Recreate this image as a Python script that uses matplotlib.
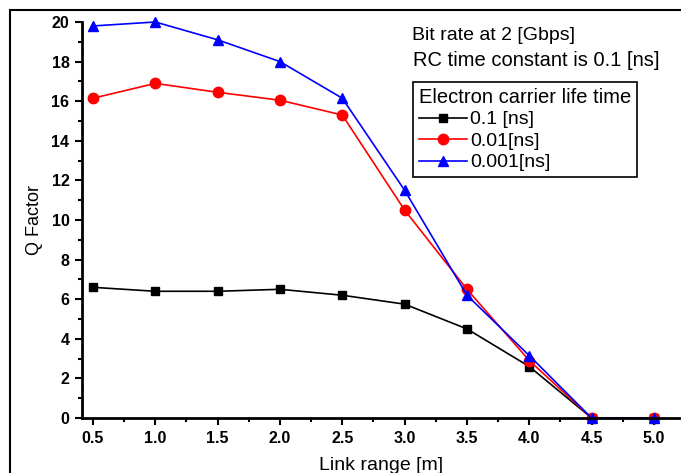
import matplotlib
matplotlib.use("Agg")
import matplotlib.pyplot as plt
from matplotlib.patches import Rectangle
from matplotlib.ticker import MultipleLocator

link_range = [0.5, 1.0, 1.5, 2.0, 2.5, 3.0, 3.5, 4.0, 4.5, 5.0]
q_01ns = [6.6, 6.4, 6.4, 6.5, 6.2, 5.75, 4.5, 2.6, 0.0, 0.0]
q_001ns = [16.15, 16.9, 16.45, 16.05, 15.3, 10.5, 6.5, 2.9, 0.0, 0.0]
q_0001ns = [19.8, 20.0, 19.1, 18.0, 16.15, 11.5, 6.2, 3.15, 0.0, 0.0]
series_labels = ["0.1 [ns]", "0.01[ns]", "0.001[ns]"]

plt.rcParams["font.family"] = ["Liberation Sans", "DejaVu Sans"]

W, H = 681, 473
fig = plt.figure(figsize=(W / 100, H / 100), dpi=100)
ax = fig.add_axes([82 / W, 55 / H, 1 - 82 / W, 396 / H])

# outer frame of the original figure (cropped on right/bottom)
fig.patches.append(Rectangle((10 / W, -0.1), 1.2, 1.1 - 10 / H,
                             transform=fig.transFigure, fill=False,
                             edgecolor="black", linewidth=1.5))

ax.plot(link_range, q_01ns, color="black", marker="s", markersize=6,
        linewidth=1.2, label=series_labels[0], clip_on=False)
ax.plot(link_range, q_001ns, color="red", marker="o", markersize=7.5,
        linewidth=1.2, label=series_labels[1], clip_on=False)
ax.plot(link_range, q_0001ns, color="blue", marker="^", markersize=7.5,
        linewidth=1.2, label=series_labels[2], clip_on=False)

ax.set_xlim(0.412, 5.217)
ax.set_ylim(0, 20)
ax.xaxis.set_minor_locator(MultipleLocator(0.25))
ax.yaxis.set_major_locator(MultipleLocator(2))
ax.yaxis.set_minor_locator(MultipleLocator(1))
ax.set_xticks(link_range)
ax.set_xticklabels([f"{v:.1f}" for v in link_range])

for side in ["top", "right"]:
    ax.spines[side].set_visible(False)
for side in ["left", "bottom"]:
    ax.spines[side].set_linewidth(2)

ax.tick_params(which="major", direction="out", length=5, width=1.5,
               labelsize=11.5, pad=4)
ax.tick_params(which="minor", direction="out", length=3, width=1.5)
for lbl in ax.get_xticklabels() + ax.get_yticklabels():
    lbl.set_fontweight("bold")

ax.set_xlabel("Link range [m]", fontsize=14, labelpad=8)
ax.set_ylabel("Q Factor", fontsize=13, labelpad=6)

fig.text(412 / W, 1 - 35 / H, "Bit rate at 2 [Gbps]",
         fontsize=14, ha="left", va="center")
fig.text(413 / W, 1 - 60 / H, "RC time constant is 0.1 [ns]",
         fontsize=14.5, ha="left", va="center")

leg = ax.legend(title="Electron carrier life time", loc="upper left",
                bbox_to_anchor=(413 / W, 1 - 82 / H),
                bbox_transform=fig.transFigure, fontsize=14,
                title_fontsize=14.5, frameon=True, fancybox=False,
                borderpad=0.3, labelspacing=0.2, handlelength=2.5,
                handletextpad=0.15, borderaxespad=0, framealpha=1)
leg.get_frame().set_edgecolor("black")
leg.get_frame().set_linewidth(1.2)
leg._legend_box.align = "left"

fig.savefig("out.png", dpi=100)
